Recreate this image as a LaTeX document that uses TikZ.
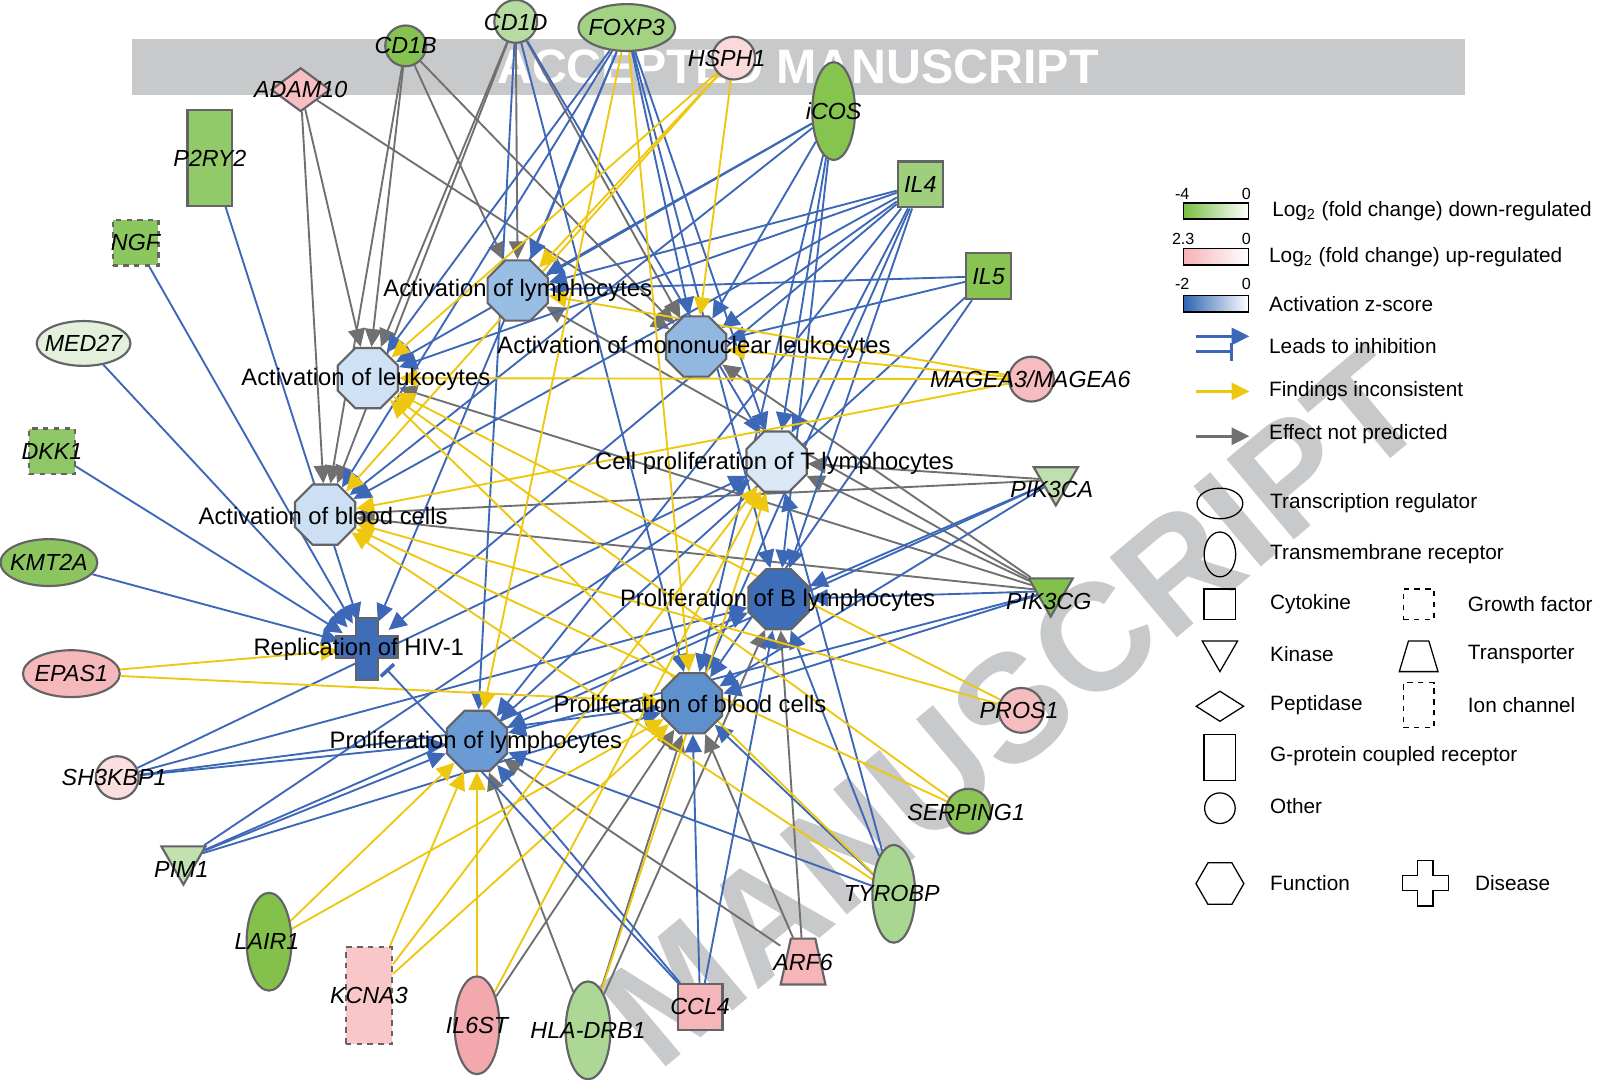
\documentclass[tikz,border=0pt]{standalone}
\usepackage{fontspec}
\setmainfont{Liberation Sans}
\usetikzlibrary{shapes.geometric,arrows.meta}

\definecolor{actblue}{HTML}{3D67B7}
\definecolor{incyellow}{HTML}{EEC710}
\definecolor{npgrey}{HTML}{707070}
\definecolor{bordgrey}{HTML}{646466}
\definecolor{wmgrey}{HTML}{C8C9CB}
% functions
\definecolor{fnAlym}{HTML}{99BEE4}
\definecolor{fnAmono}{HTML}{92B8E1}
\definecolor{fnAleuk}{HTML}{CFE1F4}
\definecolor{fnCtlym}{HTML}{DAE8F6}
\definecolor{fnAblood}{HTML}{CCDFF3}
\definecolor{fnPblym}{HTML}{3E6EB8}
\definecolor{fnHiv}{HTML}{3F6DB8}
\definecolor{fnPblood}{HTML}{5E90CD}
\definecolor{fnPlym}{HTML}{6B9BD5}
% molecules
\definecolor{colCDB}{HTML}{86C24F}
\definecolor{colCDD}{HTML}{B7DCA2}
\definecolor{colFOXP}{HTML}{A2D282}
\definecolor{colHSPH}{HTML}{FAD9DB}
\definecolor{colADAM}{HTML}{F7BFC2}
\definecolor{colICOS}{HTML}{87C34F}
\definecolor{colPTWO}{HTML}{93CA69}
\definecolor{colILfour}{HTML}{9DCF7C}
\definecolor{colILfive}{HTML}{88C451}
\definecolor{colNGF}{HTML}{8CC65F}
\definecolor{colMED}{HTML}{E2F0DC}
\definecolor{colMAGE}{HTML}{F6BCBF}
\definecolor{colDKK}{HTML}{8FC767}
\definecolor{colPIKCA}{HTML}{BFE0AE}
\definecolor{colKMT}{HTML}{8CC560}
\definecolor{colPIKCG}{HTML}{83C14D}
\definecolor{colEPAS}{HTML}{F5B8BB}
\definecolor{colPROS}{HTML}{F6BDC0}
\definecolor{colSHK}{HTML}{FBDEDF}
\definecolor{colSERP}{HTML}{8AC556}
\definecolor{colPIM}{HTML}{C1E1B1}
\definecolor{colTYRO}{HTML}{A9D690}
\definecolor{colLAIR}{HTML}{84C14A}
\definecolor{colARF}{HTML}{F6B5B8}
\definecolor{colKCNA}{HTML}{F9C7C8}
\definecolor{colILsix}{HTML}{F3A8AD}
\definecolor{colHLA}{HTML}{ADD795}
\definecolor{colCCL}{HTML}{F6B6B9}
% legend
\definecolor{legGreen}{HTML}{78BE43}
\definecolor{legPink}{HTML}{F4B3B6}
\definecolor{legBlue}{HTML}{2E63B4}

\pgfdeclarelayer{wm}
\pgfdeclarelayer{edges}
\pgfsetlayers{wm,edges,main}

\tikzset{
  fn/.style={regular polygon, regular polygon sides=8, minimum size=1.28cm,
    inner sep=0pt, draw=bordgrey, line width=1.2pt},
  fnlab/.style={font=\fontsize{13.3}{15}\selectfont, inner sep=1pt},
  gene/.style={draw=bordgrey, line width=1.2pt, inner sep=0pt},
  glab/.style={font=\fontsize{13}{15}\selectfont\itshape, inner sep=1pt},
  kinase/.style={gene, regular polygon, regular polygon sides=3,
    shape border rotate=180, minimum size=1cm},
  act/.style={color=actblue, line width=1.05pt, -{Triangle[length=10pt,width=9.5pt]}},
  incon/.style={color=incyellow, line width=1.05pt, -{Triangle[length=10pt,width=9.5pt]}},
  nopred/.style={color=npgrey, line width=1.05pt, -{Triangle[length=10pt,width=9.5pt]}},
  inhib/.style={color=actblue, line width=1.05pt, -{Bar[width=10pt,line width=2pt]}},
  legarrow/.style={line width=1.6pt},
  legtxt/.style={font=\fontsize{11.6}{13}\selectfont, anchor=west, inner sep=0pt},
  legnum/.style={font=\fontsize{9}{10}\selectfont, inner sep=0pt},
  legshape/.style={draw=black, line width=0.7pt, inner sep=0pt},
}

\begin{document}
\begin{tikzpicture}[x=0.02cm,y=-0.02cm]
\useasboundingbox (0,0) rectangle (1568,1059);

% watermark
\begin{pgfonlayer}{wm}
  \fill[wmgrey] (130,38) rectangle (1437,93);
  \node (wmtop) [text=white, font=\fontsize{27}{30}\selectfont\bfseries] at (783,66) {ACCEPTED MANUSCRIPT};
  \node (wmdiag) [text=wmgrey, font=\fontsize{85}{90}\selectfont\bfseries,
    rotate=40, anchor=east] at (1380,370) {MANUSCRIPT};
\end{pgfonlayer}

% functions
\node[fn, fill=fnAlym] (alym) at (508,285) {};
\node[fn, fill=fnAmono] (amono) at (683,340) {};
\node[fn, fill=fnAleuk] (aleuk) at (361,371) {};
\node[fn, fill=fnCtlym] (ctlym) at (762,453) {};
\node[fn, fill=fnAblood] (ablood) at (319,505) {};
\node[fn, fill=fnPblym] (pblym) at (764,588) {};
\node[fn, fill=fnPblood] (pblood) at (679,690) {};
\node[fn, fill=fnPlym] (plym) at (468,727) {};
\node[circle, minimum size=1.1cm, inner sep=0pt] (hiv) at (360,636) {};
\draw[fill=fnHiv, draw=bordgrey, line width=1.2pt]
  (349,606) -- (371,606) -- (371,624) -- (390,624) -- (390,646) -- (371,646)
  -- (371,667) -- (349,667) -- (349,646) -- (330,646) -- (330,624) -- (349,624) -- cycle;

% molecules
\node[gene, circle, fill=colCDB, minimum size=0.8cm] (cdb) at (398,45) {};
\node[gene, circle, fill=colCDD, minimum size=0.84cm] (cdd) at (506,21) {};
\node[gene, ellipse, fill=colFOXP, minimum width=1.9cm, minimum height=0.92cm] (foxp) at (615,27) {};
\node[gene, circle, fill=colHSPH, minimum size=0.84cm] (hsph) at (720,57) {};
\node[gene, diamond, fill=colADAM, minimum width=1.16cm, minimum height=0.86cm] (adam) at (295,88) {};
\node[gene, ellipse, fill=colICOS, minimum width=0.84cm, minimum height=1.92cm] (icos) at (818,109) {};
\node[gene, rectangle, fill=colPTWO, minimum width=0.88cm, minimum height=1.88cm] (ptwo) at (206,155) {};
\node[gene, rectangle, fill=colILfour, minimum width=0.88cm, minimum height=0.9cm] (ilfour) at (903,181) {};
\node[gene, rectangle, fill=colILfive, minimum width=0.88cm, minimum height=0.9cm] (ilfive) at (970,271) {};
\node[gene, rectangle, dashed, fill=colNGF, minimum width=0.9cm, minimum height=0.9cm] (ngf) at (133,238) {};
\node[gene, ellipse, fill=colMED, minimum width=1.84cm, minimum height=0.88cm] (med) at (82,337) {};
\node[gene, circle, fill=colMAGE, minimum size=0.88cm] (mage) at (1012,372) {};
\node[gene, rectangle, dashed, fill=colDKK, minimum width=0.9cm, minimum height=0.9cm] (dkk) at (51,443) {};
\node[kinase, fill=colPIKCA] (pikca) at (1036,471) {};
\node[gene, ellipse, fill=colKMT, minimum width=1.9cm, minimum height=0.92cm] (kmt) at (48,552) {};
\node[kinase, fill=colPIKCG] (pikcg) at (1031,580) {};
\node[gene, ellipse, fill=colEPAS, minimum width=1.9cm, minimum height=0.92cm] (epas) at (70,661) {};
\node[gene, circle, fill=colPROS, minimum size=0.88cm] (pros) at (1002,697) {};
\node[gene, circle, fill=colSHK, minimum size=0.84cm] (shk) at (115,763) {};
\node[gene, circle, fill=colSERP, minimum size=0.88cm] (serp) at (950,796) {};
\node[kinase, fill=colPIM] (pim) at (180,843) {};
\node[gene, ellipse, fill=colTYRO, minimum width=0.84cm, minimum height=1.92cm] (tyro) at (877,877) {};
\node[gene, ellipse, fill=colLAIR, minimum width=0.88cm, minimum height=1.92cm] (lair) at (264,924) {};
\node[rectangle, minimum width=0.88cm, minimum height=0.9cm, inner sep=0pt] (arf) at (788,943) {};
\draw[gene, fill=colARF] (766,966) -- (776,921) -- (800,921) -- (810,966) -- cycle;
\node[gene, rectangle, dashed, fill=colKCNA, minimum width=0.9cm, minimum height=1.9cm] (kcna) at (362,977) {};
\node[gene, ellipse, fill=colILsix, minimum width=0.88cm, minimum height=1.92cm] (ilsix) at (468,1006) {};
\node[gene, ellipse, fill=colHLA, minimum width=0.88cm, minimum height=1.92cm] (hla) at (577,1011) {};
\node[gene, rectangle, fill=colCCL, minimum width=0.88cm, minimum height=0.9cm] (ccl) at (687,988) {};

\begin{pgfonlayer}{edges}
  \begin{scope}[nopred]
    \draw (cdb) to (aleuk);
    \draw (cdb) to (ablood);
    \draw (cdb) to (alym);
    \draw (cdb) to (amono);
    \draw (cdd) to (aleuk);
    \draw (cdd) to (ablood);
    \draw (cdd) to (alym);
    \draw (cdd) to (amono);
    \draw (adam) to (aleuk);
    \draw (adam) to (ablood);
    \draw (adam) to (amono);
    \draw (pikcg) to (aleuk);
    \draw (pikcg) to (alym);
    \draw (pikcg) to (amono);
    \draw (pikcg) to (ctlym);
    \draw (pikcg) to (ablood);
    \draw (pikca) to (ablood);
    \draw (pikca) to (ctlym);
    \draw (arf) to (pblym);
    \draw (arf) to (plym);
    \draw (arf) to (pblood);
    \draw (hla) to (plym);
    \draw (hla) to (pblood);
    \draw (hla) to (pblym);
    \draw (ilsix) to (pblood);
  \end{scope}
  \begin{scope}[act]
    \draw (ptwo) to (hiv);
    \draw (ngf) to (hiv);
    \draw (med) to (hiv);
    \draw (dkk) to (hiv);
    \draw (kmt) to (hiv);
    \draw (cdd) to (plym);
    \draw (cdd) to (pblood);
    \draw (cdd) to (ctlym);
    \draw (foxp) to (alym);
    \draw (foxp) to (aleuk);
    \draw (foxp) to (ablood);
    \draw (foxp) to (hiv);
    \draw (foxp) to (amono);
    \draw (foxp) to (ctlym);
    \draw (foxp) to (pblym);
    \draw (icos) to (alym);
    \draw (icos) to (aleuk);
    \draw (icos) to (ablood);
    \draw (icos) to (amono);
    \draw (icos) to (ctlym);
    \draw (icos) to (pblym);
    \draw (icos) to (pblood);
    \draw (ilfour) to (alym);
    \draw (ilfour) to (aleuk);
    \draw (ilfour) to (ablood);
    \draw (ilfour) to (amono);
    \draw (ilfour) to (ctlym);
    \draw (ilfour) to (pblym);
    \draw (ilfour) to (pblood);
    \draw (ilfour) to (plym);
    \draw (ilfour) to (hiv);
    \draw (ilfive) to (alym);
    \draw (ilfive) to (amono);
    \draw (ilfive) to (pblood);
    \draw (ilfive) to (plym);
    \draw (pikca) to (pblym);
    \draw (pikca) to (pblood);
    \draw (pikca) to (plym);
    \draw (pikcg) to (pblym);
    \draw (pikcg) to (pblood);
    \draw (pikcg) to (plym);
    \draw (shk) to (plym);
    \draw (shk) to (pblood);
    \draw (shk) to (pblym);
    \draw (shk) to (ctlym);
    \draw (pim) to (plym);
    \draw (pim) to (pblood);
    \draw (pim) to (pblym);
    \draw (pim) to (ctlym);
    \draw (ccl) to (plym);
    \draw (ccl) to (pblood);
    \draw (ccl) to (pblym);
    \draw (tyro) to (plym);
    \draw (tyro) to (pblood);
    \draw (tyro) to (pblym);
    \draw (tyro) to (ctlym);
  \end{scope}
  \begin{scope}[incon]
    \draw (epas) to (hiv);
    \draw (epas) to (pblood);
    \draw (hsph) to (alym);
    \draw (hsph) to (aleuk);
    \draw (hsph) to (ablood);
    \draw (hsph) to (amono);
    \draw (foxp) to (plym);
    \draw (foxp) to (pblood);
    \draw (mage) to (alym);
    \draw (mage) to (amono);
    \draw (mage) to (aleuk);
    \draw (mage) to (ablood);
    \draw (pros) to (aleuk);
    \draw (pros) to (ablood);
    \draw (serp) to (aleuk);
    \draw (serp) to (ablood);
    \draw (tyro) to (aleuk);
    \draw (tyro) to (ablood);
    \draw (lair) to (plym);
    \draw (lair) to (pblood);
    \draw (kcna) to (plym);
    \draw (kcna) to (pblood);
    \draw (kcna) to (ctlym);
    \draw (ilsix) to (plym);
    \draw (ilsix) to (ctlym);
    \draw (hla) to (ctlym);
  \end{scope}
  \draw[inhib] (ccl) to (hiv);
\end{pgfonlayer}

% labels
\node[fnlab] (alymL) at (508,285) {Activation of lymphocytes};
\node[fnlab] (amonoL) at (681,341) {Activation of mononuclear leukocytes};
\node[fnlab] (aleukL) at (359,372) {Activation of leukocytes};
\node[fnlab] (ctlymL) at (760,455) {Cell proliferation of T lymphocytes};
\node[fnlab] (abloodL) at (317,506) {Activation of blood cells};
\node[fnlab] (pblymL) at (763,589) {Proliferation of B lymphocytes};
\node[fnlab] (hivL) at (352,637) {Replication of HIV-1};
\node[fnlab] (pbloodL) at (677,691) {Proliferation of blood cells};
\node[fnlab] (plymL) at (467,728) {Proliferation of lymphocytes};

\node[glab] (cdbL) at (398,45) {CD1B};
\node[glab] (cddL) at (506,22) {CD1D};
\node[glab] (foxpL) at (615,27) {FOXP3};
\node[glab] (hsphL) at (713,57) {HSPH1};
\node[glab] (adamL) at (295,88) {ADAM10};
\node[glab] (icosL) at (818,109) {iCOS};
\node[glab] (ptwoL) at (206,155) {P2RY2};
\node[glab] (ilfourL) at (903,181) {IL4};
\node[glab] (ilfiveL) at (970,271) {IL5};
\node[glab] (ngfL) at (133,238) {NGF};
\node[glab] (medL) at (82,337) {MED27};
\node[glab] (mageL) at (1011,372) {MAGEA3/MAGEA6};
\node[glab] (dkkL) at (51,443) {DKK1};
\node[glab] (pikcaL) at (1032,480) {PIK3CA};
\node[glab] (kmtL) at (48,552) {KMT2A};
\node[glab] (pikcgL) at (1029,590) {PIK3CG};
\node[glab] (epasL) at (70,661) {EPAS1};
\node[glab] (prosL) at (1000,697) {PROS1};
\node[glab] (shkL) at (112,763) {SH3KBP1};
\node[glab] (serpL) at (948,797) {SERPING1};
\node[glab] (pimL) at (178,853) {PIM1};
\node[glab] (tyroL) at (875,877) {TYROBP};
\node[glab] (lairL) at (262,924) {LAIR1};
\node[glab] (arfL) at (788,944) {ARF6};
\node[glab] (kcnaL) at (362,977) {KCNA3};
\node[glab] (ilsixL) at (468,1006) {IL6ST};
\node[glab] (hlaL) at (577,1011) {HLA-DRB1};
\node[glab] (cclL) at (687,988) {CCL4};

% legend
\shade[left color=legGreen, right color=white] (1161,199) rectangle (1225,215);
\draw[line width=0.8pt] (1161,199) rectangle (1225,215);
\shade[left color=legPink, right color=white] (1161,244) rectangle (1225,260);
\draw[line width=0.8pt] (1161,244) rectangle (1225,260);
\shade[left color=legBlue, right color=white] (1161,290) rectangle (1225,306);
\draw[line width=0.8pt] (1161,290) rectangle (1225,306);
\node[legnum] (lgNa) at (1160,190) {-4};
\node[legnum] (lgNb) at (1223,190) {0};
\node[legnum] (lgNc) at (1161,234) {2.3};
\node[legnum] (lgNd) at (1223,234) {0};
\node[legnum] (lgNe) at (1160,279) {-2};
\node[legnum] (lgNf) at (1223,279) {0};
\node[legtxt] (lgDown) at (1248,207) {Log\textsubscript{2} (fold change) down-regulated};
\node[legtxt] (lgUp) at (1245,252) {Log\textsubscript{2} (fold change) up-regulated};
\node[legtxt] (lgZ) at (1245,298) {Activation z-score};

\coordinate (lgAa) at (1174,330);
\coordinate (lgAb) at (1226,330);
\coordinate (lgBa) at (1174,345);
\coordinate (lgBb) at (1210,345);
\coordinate (lgCa) at (1174,384);
\coordinate (lgCb) at (1226,384);
\coordinate (lgDa) at (1174,428);
\coordinate (lgDb) at (1226,428);
\draw[act, legarrow] (lgAa) -- (lgAb);
\draw[inhib, legarrow] (lgBa) -- (lgBb);
\draw[incon, legarrow] (lgCa) -- (lgCb);
\draw[nopred, legarrow] (lgDa) -- (lgDb);
\node[legtxt] (lgInh) at (1245,340) {Leads to inhibition};
\node[legtxt] (lgInc) at (1245,384) {Findings inconsistent};
\node[legtxt] (lgNp) at (1245,426) {Effect not predicted};

\node[legshape, ellipse, minimum width=0.9cm, minimum height=0.6cm] (lgTR) at (1197,494) {};
\node[legshape, ellipse, minimum width=0.62cm, minimum height=0.88cm] (lgTM) at (1197,544) {};
\node[legshape, rectangle, minimum width=0.62cm, minimum height=0.6cm] (lgCy) at (1197,593) {};
\node[legshape, regular polygon, regular polygon sides=3, shape border rotate=180, minimum size=0.8cm] (lgKi) at (1197,639) {};
\node[legshape, diamond, minimum width=0.94cm, minimum height=0.6cm] (lgPe) at (1197,693) {};
\node[legshape, rectangle, minimum width=0.62cm, minimum height=0.9cm] (lgGP) at (1197,743) {};
\node[legshape, circle, minimum size=0.6cm] (lgOt) at (1197,793) {};
\node[legshape, regular polygon, regular polygon sides=6, minimum size=0.94cm] (lgFn) at (1197,867) {};
\node[legshape, rectangle, dashed, minimum width=0.6cm, minimum height=0.6cm] (lgGF) at (1392,593) {};
\draw[line width=0.7pt] (1373,659) -- (1382,629) -- (1402,629) -- (1411,659) -- cycle;
\node[legshape, rectangle, dashed, minimum width=0.6cm, minimum height=0.88cm] (lgIC) at (1392,692) {};
\draw[line width=0.7pt]
  (1391,844) -- (1406,844) -- (1406,859) -- (1421,859) -- (1421,874) -- (1406,874)
  -- (1406,889) -- (1391,889) -- (1391,874) -- (1376,874) -- (1376,859) -- (1391,859) -- cycle;

\node[legtxt] (lgTRt) at (1246,494) {Transcription regulator};
\node[legtxt] (lgTMt) at (1246,544) {Transmembrane receptor};
\node[legtxt] (lgCyt) at (1246,593) {Cytokine};
\node[legtxt] (lgKit) at (1246,642) {Kinase};
\node[legtxt] (lgPet) at (1246,692) {Peptidase};
\node[legtxt] (lgGPt) at (1246,742) {G-protein coupled receptor};
\node[legtxt] (lgOtt) at (1246,791) {Other};
\node[legtxt] (lgFnt) at (1246,866) {Function};
\node[legtxt] (lgGFt) at (1440,593) {Growth factor};
\node[legtxt] (lgTpt) at (1440,642) {Transporter};
\node[legtxt] (lgICt) at (1440,692) {Ion channel};
\node[legtxt] (lgDit) at (1447,866) {Disease};
\end{tikzpicture}
\end{document}
